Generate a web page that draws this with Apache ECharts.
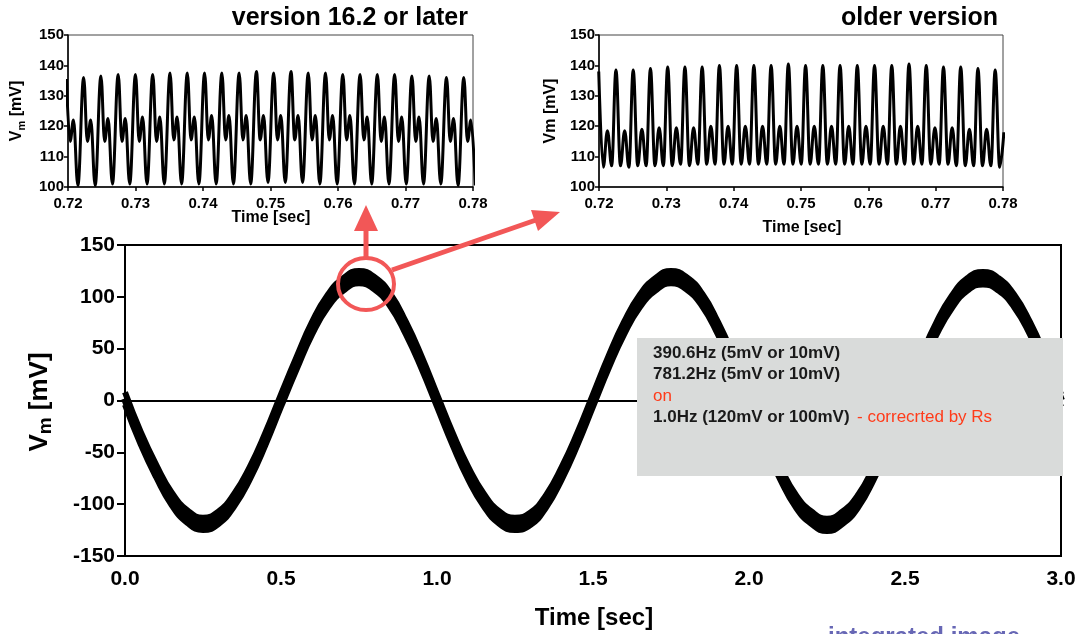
<!DOCTYPE html>
<html>
<head>
<meta charset="utf-8">
<script src="https://cdn.jsdelivr.net/npm/echarts@6/dist/echarts.min.js"></script>
<style>
  html, body { margin: 0; padding: 0; background: #fff; }
  #chart { width: 1083px; height: 634px; }
</style>
</head>
<body>
<div id="chart"></div>
<script>
// main trace, 0 - 3 sec: centre of the thick band and its two edges
var mainTime = [0, 0.05, 0.1, 0.15, 0.2, 0.25, 0.3, 0.35, 0.4, 0.45,
  0.5, 0.55, 0.6, 0.65, 0.7, 0.75, 0.8, 0.85, 0.9, 0.95,
  1.0, 1.05, 1.1, 1.15, 1.2, 1.25, 1.3, 1.35, 1.4, 1.45,
  1.5, 1.55, 1.6, 1.65, 1.7, 1.75, 1.8, 1.85, 1.9, 1.95,
  2.0, 2.05, 2.1, 2.15, 2.2, 2.25, 2.3, 2.35, 2.4, 2.45,
  2.5, 2.55, 2.6, 2.65, 2.7, 2.75, 2.8, 2.85, 2.9, 2.95, 3.0];
var mainVm = [2, -36, -68, -95, -112, -119, -113, -96, -70, -37,
  0, 36, 70, 96, 112, 119, 113, 97, 70, 37,
  0, -37, -70, -96, -113, -119, -114, -97, -70, -37,
  0, 37, 70, 96, 112, 119, 113, 97, 70, 37,
  0, -37, -70, -97, -113, -120, -113, -97, -70, -37,
  0, 36, 69, 95, 112, 118, 112, 96, 70, 37, 0];
var mainUpper = [8, -30, -62, -89, -106, -113, -107, -90, -64, -31,
  6, 42, 76, 102, 118, 125, 119, 103, 76, 43,
  6, -31, -64, -90, -107, -113, -108, -91, -64, -31,
  6, 43, 76, 102, 118, 125, 119, 103, 76, 43,
  6, -31, -64, -91, -107, -114, -107, -91, -64, -31,
  6, 42, 75, 101, 118, 124, 118, 102, 76, 43, 6];
var mainLower = [-4, -42, -74, -101, -118, -125, -119, -102, -76, -43,
  -6, 30, 64, 90, 106, 113, 107, 91, 64, 31,
  -6, -43, -76, -102, -119, -125, -120, -103, -76, -43,
  -6, 31, 64, 90, 106, 113, 107, 91, 64, 31,
  -6, -43, -76, -103, -119, -126, -119, -103, -76, -43,
  -6, 30, 63, 89, 106, 112, 106, 90, 64, 31, -6];

// inset "version 16.2 or later": turning points, ms after 0.72 sec
var newTimeMs = [-0.24, 0.31, 0.81, 1.46, 2.32, 2.87, 3.37, 4.02,
  4.88, 5.43, 5.93, 6.58, 7.44, 7.99, 8.49, 9.14, 10.00, 10.55, 11.05, 11.70,
  12.56, 13.11, 13.61, 14.26, 15.12, 15.67, 16.17, 16.82, 17.68, 18.23, 18.73, 19.38,
  20.24, 20.79, 21.29, 21.94, 22.80, 23.35, 23.85, 24.50, 25.36, 25.91, 26.41, 27.06,
  27.92, 28.47, 28.97, 29.62, 30.48, 31.03, 31.53, 32.18, 33.04, 33.59, 34.09, 34.74,
  35.60, 36.15, 36.65, 37.30, 38.16, 38.71, 39.21, 39.86, 40.72, 41.27, 41.77, 42.42,
  43.28, 43.83, 44.33, 44.98, 45.84, 46.39, 46.89, 47.54, 48.40, 48.95, 49.45, 50.10,
  50.96, 51.51, 52.01, 52.66, 53.52, 54.07, 54.57, 55.22, 56.08, 56.63, 57.13, 57.78,
  58.64, 59.19, 59.69, 60.34];
var newVm = [135.5, 115, 122, 100.5, 136, 115, 122, 100.5,
  136.5, 115, 122.5, 101, 137, 115, 122.5, 101, 137, 115, 123, 101,
  137, 115, 123, 101, 137.5, 115.5, 123, 101, 137.5, 115.5, 123, 101,
  137.5, 115.5, 123.5, 101, 137.5, 115.5, 123.5, 101, 137.5, 115.5, 123.5, 101,
  138, 115.5, 123.5, 101.5, 137.5, 115.5, 123.5, 101.5, 138, 115.5, 123.5, 101.5,
  137.5, 115.5, 123.5, 101, 137.5, 115.5, 123.5, 101, 137, 115.5, 123.5, 101,
  137, 115.5, 123, 101, 137, 115, 123, 101, 137, 115, 123, 101,
  136.5, 115, 123, 101, 136.5, 115, 122.5, 101, 136, 115, 122.5, 100.5,
  136, 115, 122, 100.5];

// inset "older version"
var oldTimeMs = [-0.04, 0.63, 1.25, 1.88, 2.52, 3.19, 3.81, 4.44,
  5.08, 5.75, 6.37, 7.00, 7.64, 8.31, 8.93, 9.56, 10.20, 10.87, 11.49, 12.12,
  12.76, 13.43, 14.05, 14.68, 15.32, 15.99, 16.61, 17.24, 17.88, 18.55, 19.17, 19.80,
  20.44, 21.11, 21.73, 22.36, 23.00, 23.67, 24.29, 24.92, 25.56, 26.23, 26.85, 27.48,
  28.12, 28.79, 29.41, 30.04, 30.68, 31.35, 31.97, 32.60, 33.24, 33.91, 34.53, 35.16,
  35.80, 36.47, 37.09, 37.72, 38.36, 39.03, 39.65, 40.28, 40.92, 41.59, 42.21, 42.84,
  43.48, 44.15, 44.77, 45.40, 46.04, 46.71, 47.33, 47.96, 48.60, 49.27, 49.89, 50.52,
  51.16, 51.83, 52.45, 53.08, 53.72, 54.39, 55.01, 55.64, 56.28, 56.95, 57.57, 58.20,
  58.84, 59.51, 60.13];
var oldVm = [138, 106.5, 118.5, 107, 138.5, 107, 118.5, 106.5,
  138.5, 107, 119, 107, 139, 107, 119.5, 107, 139.5, 107, 119.5, 107.5,
  139.5, 107, 119.5, 107.5, 139.5, 107.5, 120, 107.5, 140, 107.5, 120, 107.5,
  140, 107.5, 120, 107.5, 140, 107.5, 120, 107.5, 140, 107.5, 120, 107.5,
  140.5, 107.5, 120, 107.5, 140, 107.5, 120, 107.5, 140, 107.5, 120, 107.5,
  140, 107.5, 120, 107.5, 140, 107.5, 120, 107.5, 140, 107.5, 120, 107.5,
  140, 107.5, 120, 107.5, 140.5, 107.5, 120, 107.5, 140, 107.5, 119.5, 107.5,
  139.5, 107.5, 119.5, 107, 139.5, 107, 119, 107, 139, 107, 119, 107,
  138.5, 106.5, 118];

var FONT = '"Liberation Sans", Arial, sans-serif';
var RED = '#f25757';

function pairs(xs, ys, base, scale) {
  var out = [];
  for (var i = 0; i < xs.length; i++) {
    out.push([base + xs[i] * scale, ys[i]]);
  }
  return out;
}

function insetX(idx) {
  return {
    type: 'value', gridIndex: idx, min: 0.72, max: 0.78, interval: 0.01,
    axisLine: { lineStyle: { color: '#000', width: 1.5 } },
    axisTick: { length: 4, lineStyle: { color: '#000', width: 1.5 } },
    splitLine: { show: false },
    axisLabel: {
      margin: 9, color: '#000', fontFamily: FONT, fontWeight: 'bold', fontSize: 15,
      formatter: function (v) { return v.toFixed(2); }
    }
  };
}
function insetY(idx) {
  return {
    type: 'value', gridIndex: idx, min: 100, max: 150, interval: 10,
    axisLine: { lineStyle: { color: '#000', width: 1.5 } },
    axisTick: { show: true, length: 4, lineStyle: { color: '#000', width: 1.5 } },
    splitLine: { show: false },
    axisLabel: { margin: 4, color: '#000', fontFamily: FONT, fontWeight: 'bold', fontSize: 15 }
  };
}

function txt(x, y, text, size, opts) {
  opts = opts || {};
  return {
    type: 'text', x: x, y: y, z: 110, rotation: opts.rotation || 0,
    style: {
      text: text, fontFamily: FONT, fontSize: size,
      fontWeight: opts.weight || 'bold', fill: opts.color || '#000',
      align: opts.align || 'center', verticalAlign: opts.valign || 'middle',
      textAlign: opts.align || 'center', textVerticalAlign: opts.valign || 'middle',
      rich: opts.rich
    }
  };
}

function mainLine(name, values, width) {
  return {
    name: name, type: 'line', xAxisIndex: 2, yAxisIndex: 2,
    data: pairs(mainTime, values, 0, 1),
    smooth: true, symbol: 'none',
    lineStyle: { color: '#000', width: width, join: 'round', cap: 'butt' }
  };
}

var centre = mainLine('integrated', mainVm, 8);
centre.markLine = {
  silent: true, symbol: ['none', 'none'], label: { show: false },
  lineStyle: { color: '#000', width: 1, type: [2, 3] },
  data: [{ yAxis: 0 }]
};

var option = {
  animation: false,
  backgroundColor: '#fff',
  grid: [
    { left: 68, top: 35, width: 405, height: 152, show: true, borderColor: '#444', borderWidth: 1 },
    { left: 599, top: 35, width: 404, height: 152, show: true, borderColor: '#444', borderWidth: 1 },
    { left: 125, top: 245, width: 936, height: 311, show: true, borderColor: '#000', borderWidth: 2 }
  ],
  xAxis: [
    insetX(0),
    insetX(1),
    {
      type: 'value', gridIndex: 2, min: 0, max: 3, interval: 0.5,
      axisLine: { lineStyle: { color: '#000', width: 2 } },
      axisTick: { length: 8, lineStyle: { color: '#000', width: 2 } },
      splitLine: { show: false },
      axisLabel: {
        margin: 13, color: '#000', fontFamily: FONT, fontWeight: 'bold', fontSize: 21,
        formatter: function (v) { return v.toFixed(1); }
      }
    }
  ],
  yAxis: [
    insetY(0),
    insetY(1),
    {
      type: 'value', gridIndex: 2, min: -150, max: 150, interval: 50,
      axisLine: { lineStyle: { color: '#000', width: 2 } },
      axisTick: { show: true, length: 8, lineStyle: { color: '#000', width: 2 } },
      splitLine: { show: false },
      axisLabel: { margin: 10, color: '#000', fontFamily: FONT, fontWeight: 'bold', fontSize: 21 }
    }
  ],
  series: [
    {
      name: 'version 16.2 or later', type: 'line', xAxisIndex: 0, yAxisIndex: 0,
      data: pairs(newTimeMs, newVm, 0.72, 0.001),
      smooth: 0.4, smoothMonotone: 'x', symbol: 'none', clip: true,
      lineStyle: { color: '#000', width: 3 }
    },
    {
      name: 'older version', type: 'line', xAxisIndex: 1, yAxisIndex: 1,
      data: pairs(oldTimeMs, oldVm, 0.72, 0.001),
      smooth: 0.4, smoothMonotone: 'x', symbol: 'none', clip: true,
      lineStyle: { color: '#000', width: 3 }
    },
    mainLine('upper edge', mainUpper, 6),
    mainLine('lower edge', mainLower, 6),
    centre
  ],
  graphic: [
    // inset titles
    txt(468, 18, 'version 16.2 or later', 25, { align: 'right' }),
    txt(998, 18, 'older version', 25, { align: 'right' }),
    txt(271, 218, 'Time [sec]', 16),
    txt(802, 228, 'Time [sec]', 16),
    txt(17, 111, '{v|V}{s|m}{v| [mV]}', 16, {
      rotation: Math.PI / 2,
      rich: {
        v: { fontFamily: FONT, fontWeight: 'bold', fontSize: 16, lineHeight: 20 },
        s: { fontFamily: FONT, fontWeight: 'bold', fontSize: 11, lineHeight: 10, verticalAlign: 'bottom' }
      }
    }),
    txt(551, 111, 'Vm [mV]', 16, { rotation: Math.PI / 2 }),
    // main axis titles
    txt(594, 618, 'Time [sec]', 24),
    txt(40, 402, '{v|V}{s|m}{v| [mV]}', 26, {
      rotation: Math.PI / 2,
      rich: {
        v: { fontFamily: FONT, fontWeight: 'bold', fontSize: 26, lineHeight: 30 },
        s: { fontFamily: FONT, fontWeight: 'bold', fontSize: 19, lineHeight: 14, verticalAlign: 'bottom' }
      }
    }),
    // stimulus note
    { type: 'rect', z: 100, shape: { x: 637, y: 338, width: 426, height: 138 }, style: { fill: '#d9dbda' } },
    txt(653, 353, '390.6Hz (5mV or 10mV)', 17, { align: 'left', color: '#1a1a1a' }),
    txt(653, 374, '781.2Hz (5mV or 10mV)', 17, { align: 'left', color: '#1a1a1a' }),
    txt(653, 396, 'on', 17, { align: 'left', color: '#ff3b1a', weight: 'normal' }),
    txt(653, 417, '1.0Hz (120mV or 100mV)', 17, { align: 'left', color: '#1a1a1a' }),
    txt(857, 417, '- correcrted by Rs', 17, { align: 'left', color: '#ff3b1a', weight: 'normal' }),
    // zoom marker and arrows
    { type: 'ellipse', z: 105, shape: { cx: 366, cy: 284, rx: 28, ry: 26 }, style: { fill: 'none', stroke: RED, lineWidth: 4 } },
    { type: 'line', z: 105, shape: { x1: 366, y1: 258, x2: 366, y2: 229 }, style: { stroke: RED, lineWidth: 5 } },
    { type: 'polygon', z: 105, shape: { points: [[354, 231], [378, 231], [366, 205]] }, style: { fill: RED } },
    { type: 'line', z: 105, shape: { x1: 392, y1: 270, x2: 536, y2: 220 }, style: { stroke: RED, lineWidth: 5 } },
    { type: 'polygon', z: 105, shape: { points: [[531, 210], [538, 231], [560, 212]] }, style: { fill: RED } },
    // cut-off caption at the bottom
    txt(828, 625, 'integrated image', 24, { align: 'left', valign: 'top', color: '#6767b5' })
  ]
};

var myChart = echarts.init(document.getElementById('chart'), null, { renderer: 'canvas' });
myChart.setOption(option);
</script>
</body>
</html>
